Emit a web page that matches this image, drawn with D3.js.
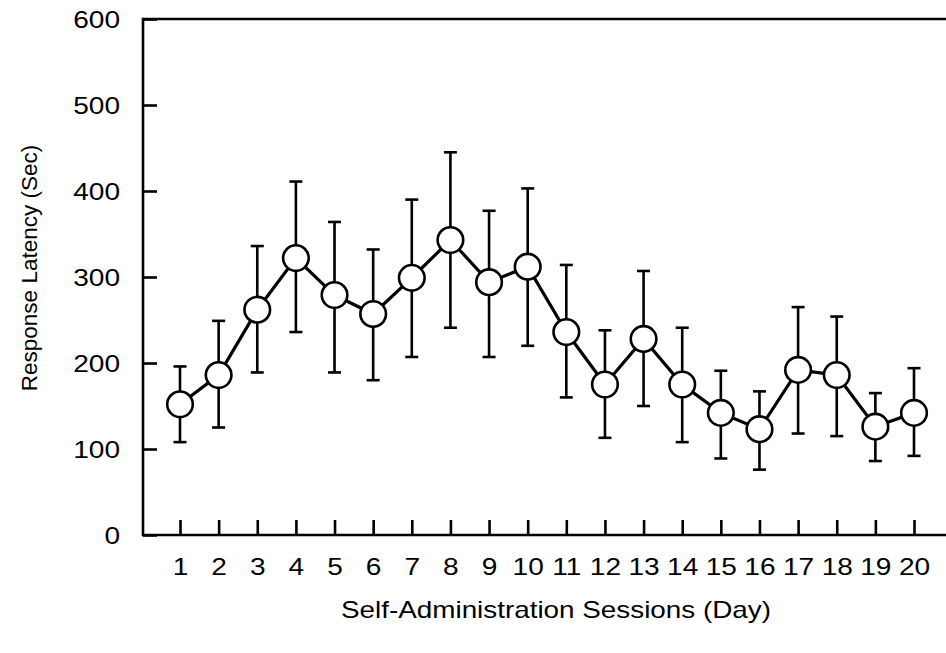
<!DOCTYPE html>
<html>
<head>
<meta charset="utf-8">
<script src="https://cdn.jsdelivr.net/npm/d3@7"></script>
<style>
  html, body { margin: 0; padding: 0; background: #fff; }
  svg { display: block; font-family: "Liberation Sans", Arial, Helvetica, sans-serif; }
</style>
</head>
<body>
<svg id="chart" width="946" height="653"></svg>
<script>
// Session days and mean response latency (seconds) with error-bar limits
const days = [1, 2, 3, 4, 5, 6, 7, 8, 9, 10, 11, 12, 13, 14, 15, 16, 17, 18, 19, 20];
const latencyMean  = [152, 186, 262, 322, 279, 257, 299, 343, 294, 312, 236, 175, 228, 175, 142, 123, 192, 186, 126, 142];
const latencyUpper = [196, 249, 336, 411, 364, 332, 390, 445, 377, 403, 314, 238, 307, 241, 191, 167, 265, 254, 165, 194];
const latencyLower = [108, 125, 189, 236, 189, 180, 207, 241, 207, 220, 160, 113, 150, 108,  89,  76, 118, 115,  86,  92];
const yTicks = [0, 100, 200, 300, 400, 500, 600];

const svg = d3.select("#chart");
const W = 946;
const plotLeft = 143, plotTop = 19, plotBottom = 535;
const wide = 1.17; // horizontal stretch of the lettering

const x = d3.scaleLinear().domain([1, 20]).range([180, 914]);
const y = d3.scaleLinear().domain([0, 600]).range([plotBottom, plotTop]);

const data = days.map((d, i) => ({ day: d, mean: latencyMean[i], hi: latencyUpper[i], lo: latencyLower[i] }));

// Frame: left axis, top and bottom lines running to the right edge
const frame = svg.append("g").attr("stroke", "#000").attr("stroke-width", 2.6).attr("fill", "none");
frame.append("line").attr("x1", plotLeft).attr("x2", plotLeft).attr("y1", plotTop - 1.3).attr("y2", plotBottom + 1.3);
frame.append("line").attr("x1", plotLeft).attr("x2", W + 5).attr("y1", plotTop).attr("y2", plotTop);
frame.append("line").attr("x1", plotLeft).attr("x2", W + 5).attr("y1", plotBottom).attr("y2", plotBottom);

// Y axis: inward ticks
const yAxis = d3.axisRight(y).tickValues(yTicks).tickSize(14).tickFormat("");
const gy = svg.append("g").attr("transform", `translate(${plotLeft},0)`).call(yAxis);
gy.select(".domain").remove();
gy.selectAll(".tick line").attr("stroke", "#000").attr("stroke-width", 2.6);
gy.selectAll(".tick").append("text")
  .attr("transform", `translate(-23,8) scale(${wide},1)`)
  .attr("text-anchor", "end")
  .attr("fill", "#000")
  .style("font-size", "24px")
  .text(d => d);

// X axis: inward ticks
const xAxis = d3.axisTop(x).tickValues(days).tickSize(15).tickFormat("");
const gx = svg.append("g").attr("transform", `translate(0,${plotBottom})`).call(xAxis);
gx.select(".domain").remove();
gx.selectAll(".tick line").attr("stroke", "#000").attr("stroke-width", 2.6);
gx.selectAll(".tick").append("text")
  .attr("transform", `translate(0,40) scale(${wide},1)`)
  .attr("text-anchor", "middle")
  .attr("fill", "#000")
  .style("font-size", "24px")
  .text(d => d);

// Error bars
const eb = svg.append("g").attr("stroke", "#000").attr("stroke-width", 2.6);
const cap = 6.5;
eb.selectAll("line.v").data(data).join("line").attr("class", "v")
  .attr("x1", d => x(d.day)).attr("x2", d => x(d.day))
  .attr("y1", d => y(d.hi)).attr("y2", d => y(d.lo));
eb.selectAll("line.t").data(data).join("line").attr("class", "t")
  .attr("x1", d => x(d.day) - cap).attr("x2", d => x(d.day) + cap)
  .attr("y1", d => y(d.hi)).attr("y2", d => y(d.hi));
eb.selectAll("line.b").data(data).join("line").attr("class", "b")
  .attr("x1", d => x(d.day) - cap).attr("x2", d => x(d.day) + cap)
  .attr("y1", d => y(d.lo)).attr("y2", d => y(d.lo));

// Connecting line
svg.append("path").datum(data)
  .attr("fill", "none").attr("stroke", "#000").attr("stroke-width", 3.2)
  .attr("d", d3.line().x(d => x(d.day)).y(d => y(d.mean)));

// Open circle markers
svg.append("g").selectAll("circle").data(data).join("circle")
  .attr("cx", d => x(d.day)).attr("cy", d => y(d.mean)).attr("r", 12.8)
  .attr("fill", "#fff").attr("stroke", "#000").attr("stroke-width", 2.6);

// Axis titles
svg.append("text")
  .attr("transform", `translate(556,618) scale(${wide},1)`)
  .attr("text-anchor", "middle")
  .style("font-size", "23.8px")
  .text("Self-Administration Sessions (Day)");

svg.append("text")
  .attr("transform", "translate(37,268) rotate(-90)")
  .attr("text-anchor", "middle")
  .style("font-size", "22.5px")
  .text("Response Latency (Sec)");
</script>
</body>
</html>
